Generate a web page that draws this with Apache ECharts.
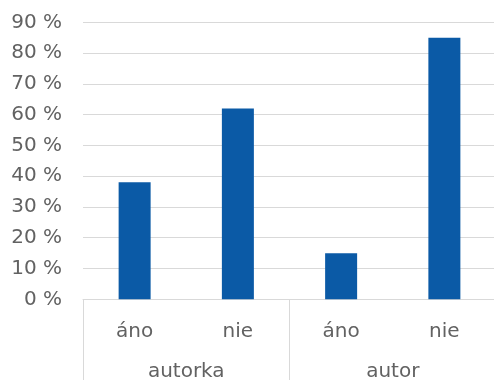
<!DOCTYPE html>
<html>
<head>
<meta charset="utf-8">
<script src="https://cdn.jsdelivr.net/npm/echarts@6/dist/echarts.min.js"></script>
<style>
html,body{margin:0;padding:0;background:#fff;}
#c{width:494px;height:380px;}
</style>
</head>
<body>
<div id="c"></div>
<script>
const categories = ['áno', 'nie', 'áno', 'nie'];
const groups = ['autorka', 'autor'];
const values = [38, 62, 15, 85];
const yTicks = { min: 0, max: 90, interval: 10 };

const textColor = '#626262';
const lineColor = '#d9d9d9';
const font = 'DejaVu Sans';

const chart = echarts.init(document.getElementById('c'), null, { renderer: 'canvas' });
chart.setOption({
  animation: false,
  backgroundColor: '#ffffff',
  grid: { left: 83, right: -2, top: 22.3, bottom: 80.7, containLabel: false, outerBoundsMode: 'none' },
  xAxis: [
    {
      type: 'category',
      data: categories,
      position: 'bottom',
      axisLine: { show: true, lineStyle: { color: lineColor, width: 1 } },
      axisTick: { show: false },
      axisLabel: { color: textColor, fontFamily: font, fontSize: 20, margin: 22 },
      splitLine: { show: false }
    },
    {
      type: 'category',
      data: groups,
      position: 'bottom',
      axisLine: { show: false },
      axisTick: { show: true, length: 90, lineStyle: { color: lineColor, width: 1 } },
      axisLabel: { color: textColor, fontFamily: font, fontSize: 20, margin: 62 },
      splitLine: { show: false }
    }
  ],
  yAxis: {
    type: 'value',
    min: yTicks.min,
    max: yTicks.max,
    interval: yTicks.interval,
    axisLine: { show: false },
    axisTick: { show: false },
    axisLabel: { color: textColor, fontFamily: font, fontSize: 20, margin: 21, formatter: '{value} %' },
    splitLine: { show: true, lineStyle: { color: lineColor, width: 1 } }
  },
  series: [{
    type: 'bar',
    xAxisIndex: 0,
    data: values,
    barWidth: 32,
    itemStyle: { color: '#0B5AA6' }
  }]
});
</script>
</body>
</html>
